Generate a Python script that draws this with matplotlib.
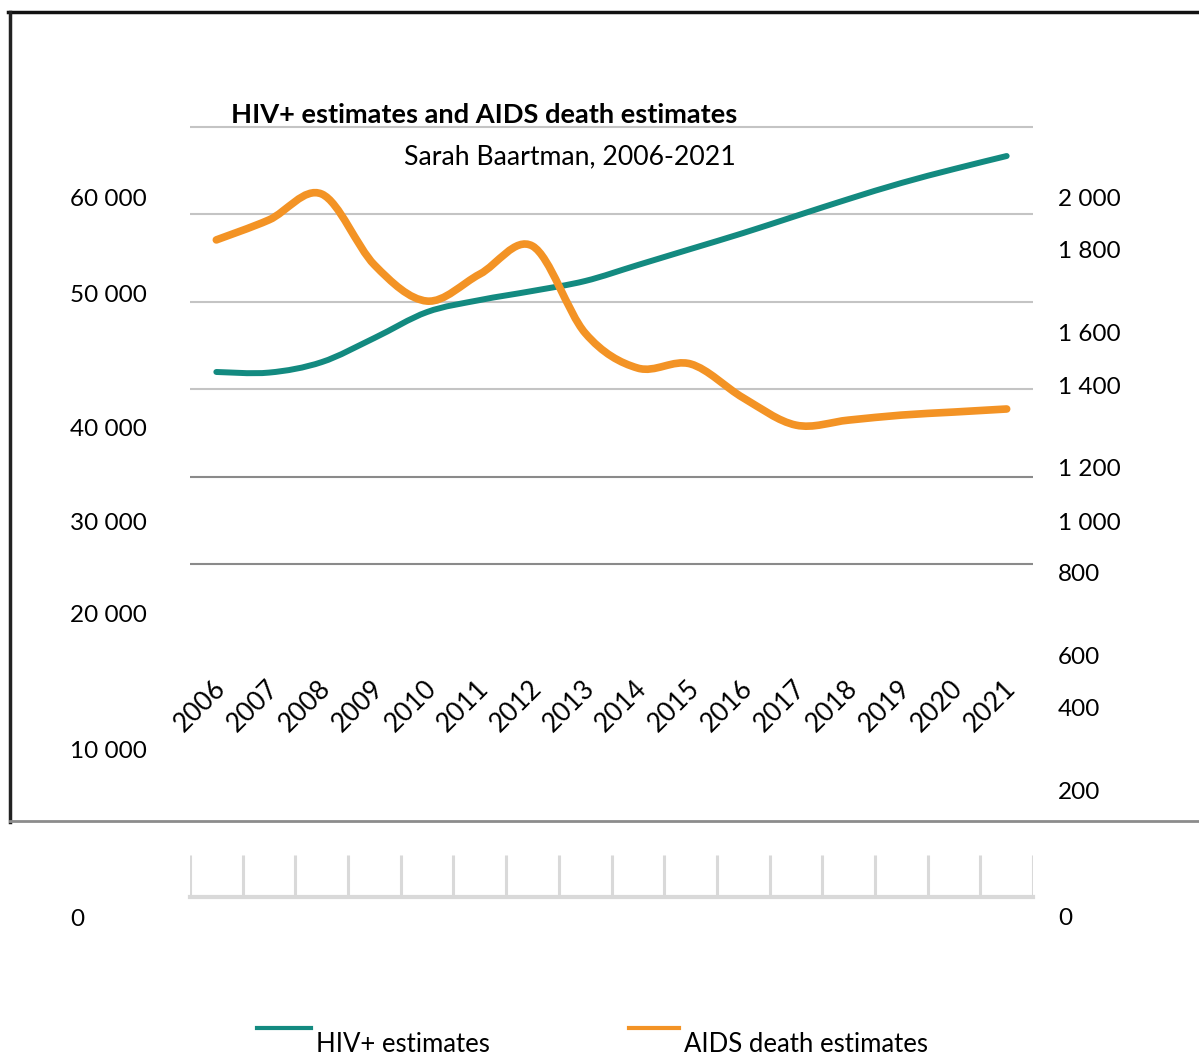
import numpy as np
import matplotlib.pyplot as plt
from matplotlib.path import Path
from matplotlib.patches import PathPatch
from matplotlib.lines import Line2D

plt.rcParams['font.family'] = ['Lato', 'DejaVu Sans']

# data
years = list(range(2006, 2022))
hiv = [41970, 41900, 43100, 45860, 48830, 50200, 51240, 52380,
       54210, 56040, 57870, 59820, 61760, 63590, 65190, 66680]
aids = [1794, 1866, 1959, 1704, 1574, 1671, 1772, 1459,
        1333, 1348, 1226, 1128, 1146, 1164, 1175, 1186]
left_labels = ['0', '10 000', '20 000', '30 000', '40 000', '50 000', '60 000']
right_labels = ['0', '200', '400', '600', '800', '1 000', '1 200',
                '1 400', '1 600', '1 800', '2 000']
grid_vals = [70000, 60000, 50000, 40000, 30000, 20000]

teal = '#138a80'
orange = '#f39325'

W, H = 1199, 1059

# the scan is squashed, so labels sit at these pixel rows
left_label_px = [917, 749, 614, 521, 427, 293, 198]
right_label_px = [917, 791, 708, 656, 573, 521, 468, 385, 333, 250, 198]


def left_val(px):
    # 70 000 gridline at px 127, 87.4 px per 10 000
    return 70000 - (px - 127) / 87.4 * 10000


def right_val(px):
    return 2200 - (px - 127) / (7 * 87.4) * 2200


def smooth_path(xs, ys):
    pts = np.column_stack([xs, ys]).astype(float)
    n = len(pts)
    verts = [pts[0]]
    codes = [Path.MOVETO]
    for i in range(n - 1):
        p0 = pts[max(i - 1, 0)]
        p1 = pts[i]
        p2 = pts[i + 1]
        p3 = pts[min(i + 2, n - 1)]
        verts += [p1 + (p2 - p0) / 6, p2 - (p3 - p1) / 6, p2]
        codes += [Path.CURVE4] * 3
    return Path(verts, codes)


fig = plt.figure(figsize=(W / 100, H / 100), dpi=100)

ax = fig.add_axes([190 / W, 1 - 940 / H, 843 / W, 830 / H])
ax.set_xlim(-0.5, 15.5)
ax.set_ylim(left_val(940), left_val(110))
ax2 = ax.twinx()
ax2.set_ylim(right_val(940), right_val(110))

for a in (ax, ax2):
    for s in a.spines.values():
        s.set_visible(False)
    a.set_xticks([])

for i, v in enumerate(grid_vals):
    ax.axhline(v, color='#c4c4c4' if i < 4 else '#8a8a8a', lw=1.5, zorder=1)

x = np.arange(len(years))
ax.add_patch(PathPatch(smooth_path(x, hiv), fill=False, edgecolor=teal,
                       lw=4.3, capstyle='round', joinstyle='round', zorder=3))
ax2.add_patch(PathPatch(smooth_path(x, aids), fill=False, edgecolor=orange,
                        lw=5.5, capstyle='round', joinstyle='round', zorder=3))

ax.set_yticks([left_val(p) for p in left_label_px])
ax.set_yticklabels(left_labels)
ax.tick_params(axis='y', length=0, pad=(190 - 70) * 0.72, labelsize=17.5)
for t in ax.get_yticklabels():
    t.set_horizontalalignment('left')

ax2.set_yticks([right_val(p) for p in right_label_px])
ax2.set_yticklabels(right_labels)
ax2.tick_params(axis='y', length=0, pad=(1058 - 1033) * 0.72, labelsize=17.5)

for i, yr in enumerate(years):
    ax.text(i + 0.1, left_val(684), str(yr), rotation=45, rotation_mode='anchor',
            ha='right', va='center', fontsize=19)

# empty category box below the plot
axb = fig.add_axes([190 / W, 1 - 897 / H, 843 / W, 42 / H])
axb.set_xlim(-0.5, 15.5)
axb.set_ylim(0, 1)
axb.axis('off')
axb.vlines(np.arange(-0.5, 16), 0, 1, color='#d9d9d9', lw=2.2)
axb.axhline(0, color='#d9d9d9', lw=3, clip_on=False)

fig.text(231 / W, 1 - 115 / H, 'HIV+ estimates and AIDS death estimates',
         fontsize=19.6, fontweight='bold', ha='left', va='center')
fig.text(736 / W, 1 - 157 / H, 'Sarah Baartman, 2006-2021',
         fontsize=19.2, ha='right', va='center')

# outer frame
fig.add_artist(Line2D([8 / W, 1], [1 - 12 / H] * 2, color='#111111', lw=2.5))
fig.add_artist(Line2D([10 / W] * 2, [1 - 12 / H, 1 - 822 / H], color='#222222', lw=2.5))
fig.add_artist(Line2D([10 / W, 1], [1 - 821 / H] * 2, color='#8c8c8c', lw=2))

# legend
fig.add_artist(Line2D([257 / W, 311 / W], [1 - 1028 / H] * 2, color=teal, lw=3))
fig.text(316 / W, 1 - 1057 / H, 'HIV+ estimates', fontsize=18.5, ha='left', va='bottom')
fig.add_artist(Line2D([629 / W, 679 / W], [1 - 1028 / H] * 2, color=orange, lw=3))
fig.text(684 / W, 1 - 1057 / H, 'AIDS death estimates', fontsize=18.5, ha='left', va='bottom')

fig.savefig('out.png', dpi=100, facecolor='white')
